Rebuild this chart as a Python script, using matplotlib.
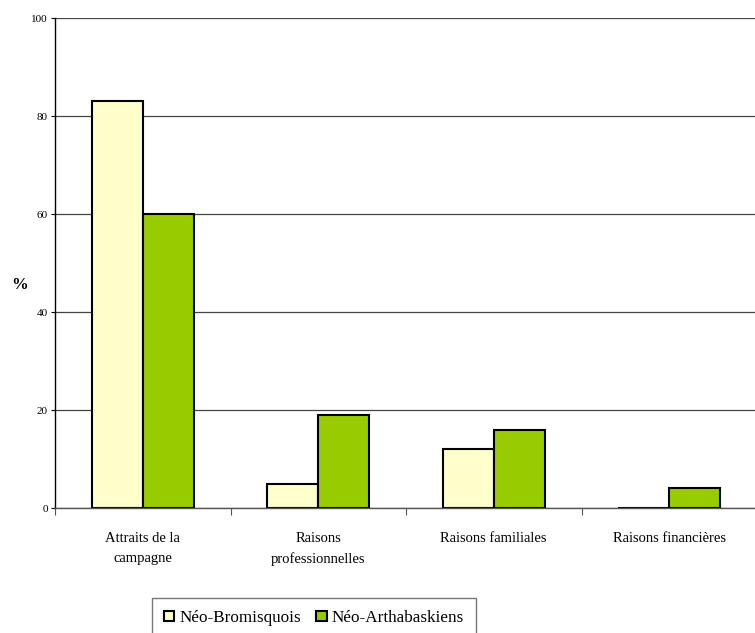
import matplotlib.pyplot as plt
import numpy as np

categories = ['Attraits de la\ncampagne', 'Raisons\nprofessionnelles',
              'Raisons familiales', 'Raisons financières']
bromisquois = [83, 5, 12, 0]
arthabaskiens = [60, 19, 16, 4]
series_names = ['Néo-Bromisquois', 'Néo-Arthabaskiens']
yticks = [0, 20, 40, 60, 80, 100]

plt.rcParams['font.family'] = ['Liberation Serif', 'DejaVu Serif']

fig = plt.figure(figsize=(7.55, 6.33), dpi=100)
ax = fig.add_axes([55 / 755, 1 - 508 / 633, 702 / 755, 490 / 633])

x = np.arange(len(categories))
w = 0.29
ax.bar(x - w / 2, bromisquois, w, color='#FFFFCC', edgecolor='black', linewidth=1.5,
       label=series_names[0], zorder=3)
ax.bar(x + w / 2, arthabaskiens, w, color='#99CC00', edgecolor='black', linewidth=1.5,
       label=series_names[1], zorder=3)

ax.set_xlim(-0.5, len(categories) - 0.5)
ax.set_ylim(0, 100)
ax.set_yticks(yticks)
ax.set_yticklabels([str(v) for v in yticks], fontsize=8)
ax.yaxis.grid(True, color='#444444', linewidth=0.9, zorder=0)
ax.tick_params(axis='y', length=3, width=0.8, pad=2)

ax.set_xticks(x)
ax.set_xticklabels(categories, fontsize=10.5, linespacing=1.7)
ax.tick_params(axis='x', length=0, pad=17)
ax.set_xticks(np.arange(len(categories) + 1) - 0.5, minor=True)
ax.tick_params(axis='x', which='minor', length=5, color='#555555', width=0.8)

for s in ['top', 'right']:
    ax.spines[s].set_visible(False)
ax.spines['left'].set_color('black')
ax.spines['left'].set_linewidth(1.0)
ax.spines['bottom'].set_color('#555555')
ax.spines['bottom'].set_linewidth(1.0)
ax.spines['bottom'].set_zorder(4)

fig.text(20 / 755, 1 - 285 / 633, '%', fontsize=12, fontweight='bold', ha='center', va='center')

leg = fig.legend(loc='upper left', bbox_to_anchor=(152 / 755, 1 - 598 / 633), ncol=2,
                 fontsize=12.3, frameon=True, fancybox=False, edgecolor='#555555',
                 handlelength=0.6, handleheight=0.6, handletextpad=0.3, columnspacing=0.9,
                 borderpad=0.7, borderaxespad=0)
leg.get_frame().set_linewidth(1.0)

fig.savefig('out.png', dpi=100)
